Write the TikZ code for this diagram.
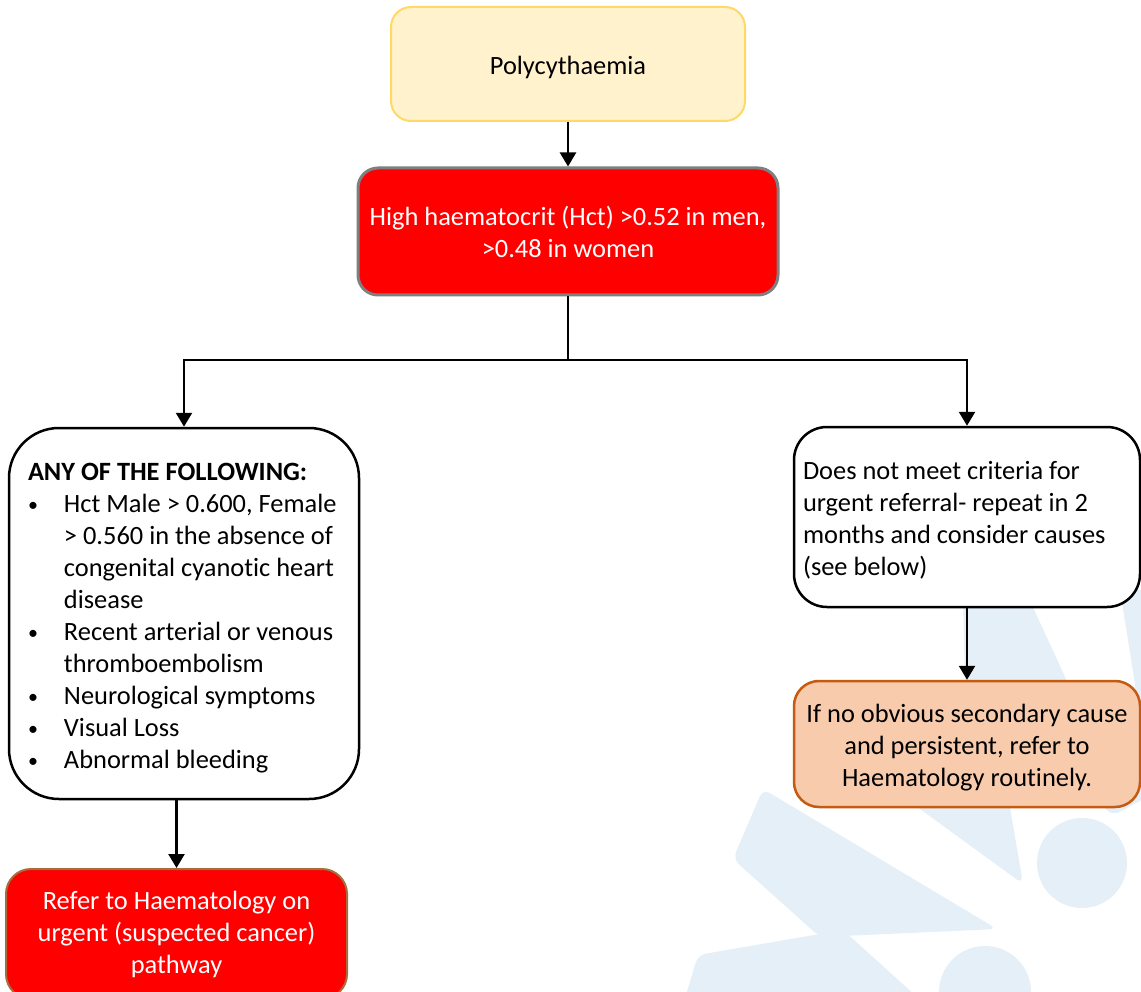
\documentclass[tikz,border=0pt]{standalone}
\usepackage{fontspec}
\setmainfont{Carlito}[Ligatures=NoCommon]
\usetikzlibrary{arrows.meta}
\definecolor{wmblue}{RGB}{229,239,247}
\definecolor{polyfill}{RGB}{255,242,204}
\definecolor{polyline}{RGB}{255,217,102}
\definecolor{hiline}{RGB}{127,127,127}
\definecolor{orfill}{RGB}{248,203,173}
\definecolor{orline}{RGB}{197,90,17}
\definecolor{refline}{RGB}{166,110,60}
\newcommand{\flbul}{\makebox[51pt][l]{\hspace*{15pt}\raisebox{1.5pt}{\fontsize{20}{20}\selectfont•}}}
\newcommand{\flind}{\hspace*{51pt}}
\newcommand{\flstrut}[1]{\rule{0pt}{#1}}
\begin{document}
\begin{tikzpicture}[x=1pt,y=-1pt,
  txt/.style={font=\fontsize{26.4}{32}\selectfont},
  flowbox/.style={txt, inner sep=0pt, rounded corners=20pt},
  conn/.style={line width=2.5pt, -{Triangle[length=14pt,width=16pt]}},
  plainline/.style={line width=2.5pt},
  wm/.style={fill=wmblue, rounded corners=8pt}]
\useasboundingbox (0,0) rectangle (1141,992);
\fill[white] (0,0) rectangle (1141,992);
\clip (0,0) rectangle (1141,992);
% watermark
\fill[wm] (963,590) -- (1025,590) -- (1071,690) -- (1007,790) -- (1023,884) -- (894,790) -- (965,690) -- cycle;
\fill[wm] (1120,590) -- (1160,590) -- (1160,790) -- (1112,816) -- (1098,800) -- (1136,690) -- cycle;
\fill[wm] (763,789) -- (997,929) -- (820,937) -- (733,859) -- cycle;
\fill[wm] (698,955) -- (843,930) -- (937,1015) -- (680,1015) -- cycle;
\fill[wmblue] (1082,863) circle (45);
\fill[wmblue] (985,992) circle (46);
% boxes
\node[flowbox, draw=polyline, fill=polyfill, line width=2pt, minimum width=354pt, minimum height=114pt] (poly) at (568,64) {\flstrut{25pt}Polycythaemia};
\node[flowbox, draw=hiline, fill=red, text=white, line width=3pt, minimum width=420pt, minimum height=127pt, align=center] (high) at (568,231.5) {High haematocrit (Hct) >0.52 in men,\\>0.48 in women};
\node[flowbox, rounded corners=50pt, draw=black, fill=white, line width=2.5pt, minimum width=350pt, minimum height=371pt, text width=342pt, inner xsep=4pt, align=flush left] (lbox) at (184,613.5) {\flstrut{27pt}\hspace*{15pt}\textbf{ANY OF THE FOLLOWING:}\\
\flbul Hct Male > 0.600, Female\\
\flind > 0.560 in the absence of\\
\flind congenital cyanotic heart\\
\flind disease\\
\flbul Recent arterial or venous\\
\flind thromboembolism\\
\flbul Neurological symptoms\\
\flbul Visual Loss\\
\flbul Abnormal bleeding};
\node[flowbox, rounded corners=33pt, draw=black, fill=white, line width=2.5pt, minimum width=346pt, minimum height=180pt, text width=328pt, inner xsep=9pt, align=flush left] (rbox) at (967,517) {\flstrut{25pt}Does not meet criteria for\\urgent referral- repeat in 2\\months and consider causes\\(see below)};
\node[flowbox, rounded corners=25pt, draw=orline, fill=orfill, line width=2.5pt, minimum width=346pt, minimum height=126pt, align=center] (orange) at (967,744) {\flstrut{26pt}If no obvious secondary cause\\and persistent, refer to\\Haematology routinely.};
\node[flowbox, rounded corners=25pt, draw=refline, fill=red, text=white, line width=2pt, minimum width=341pt, minimum height=130pt, align=center] (refer) at (176.5,934) {Refer to Haematology on\\urgent (suspected cancer)\\pathway};
% connectors
\coordinate (split) at (568,360);
\draw[conn] (poly) -- (high);
\draw[plainline] (high.south) -- (split);
\draw[conn] (split) -| (lbox.north);
\draw[conn] (split) -| (rbox.north);
\draw[conn] (lbox.south -| refer.north) -- (refer.north);
\draw[conn] (rbox) -- (orange);
\end{tikzpicture}
\end{document}
